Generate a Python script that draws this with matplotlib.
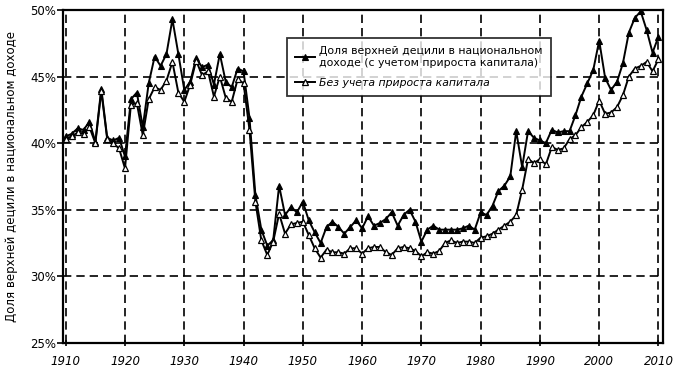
import numpy as np
import matplotlib
matplotlib.use("Agg")
import matplotlib.pyplot as plt
from matplotlib.ticker import FuncFormatter

years = list(range(1910, 2011))

# with capital gains (filled triangles)
share_with_cg = [
    40.5, 40.7, 41.1, 41.0, 41.6, 40.1, 44.1, 40.4, 40.2, 40.4,   # 1910s
    39.0, 43.3, 43.8, 41.2, 44.5, 46.5, 45.8, 46.7, 49.3, 46.7,   # 1920s
    44.0, 44.6, 46.4, 45.7, 45.9, 44.4, 46.7, 44.6, 44.2, 45.6,   # 1930s
    45.4, 41.9, 36.1, 33.5, 32.3, 32.7, 36.8, 34.6, 35.2, 34.8,   # 1940s
    35.6, 34.2, 33.3, 32.5, 33.7, 34.1, 33.7, 33.2, 33.7, 34.2,   # 1950s
    33.6, 34.5, 33.8, 34.0, 34.3, 34.8, 33.8, 34.6, 35.0, 34.1,   # 1960s
    32.6, 33.5, 33.8, 33.5, 33.5, 33.5, 33.5, 33.6, 33.8, 33.5,   # 1970s
    34.8, 34.6, 35.3, 36.4, 36.8, 37.5, 40.9, 38.2, 40.9, 40.4,   # 1980s
    40.2, 40.0, 41.0, 40.8, 40.9, 40.9, 42.1, 43.5, 44.5, 45.5,   # 1990s
    47.7, 44.9, 44.0, 44.6, 46.0, 48.3, 49.4, 49.9, 48.5, 46.8,   # 2000s
    48.0,
]

# without capital gains (open triangles)
share_no_cg = [
    40.3, 40.5, 40.8, 40.7, 41.2, 40.0, 43.9, 40.3, 40.0, 39.6,
    38.1, 42.9, 43.0, 40.6, 43.3, 44.2, 44.0, 44.7, 46.1, 43.8,
    43.1, 44.4, 46.2, 45.1, 45.4, 43.5, 45.0, 43.4, 43.1, 44.8,
    44.5, 41.0, 35.6, 32.7, 31.6, 32.6, 34.7, 33.2, 33.9, 34.0,
    34.1, 33.1, 32.1, 31.4, 32.0, 31.8, 31.8, 31.7, 32.1, 32.1,
    31.7, 32.1, 32.2, 32.2, 31.8, 31.6, 32.1, 32.2, 32.1, 31.9,
    31.5, 31.8, 31.7, 31.9, 32.5, 32.7, 32.5, 32.6, 32.6, 32.5,
    32.9, 33.0, 33.2, 33.5, 33.8, 34.1, 34.6, 36.5, 38.8, 38.5,
    38.8, 38.4, 39.7, 39.5, 39.6, 40.3, 40.6, 41.2, 41.6, 42.1,
    43.2, 42.2, 42.3, 42.7, 43.6, 45.0, 45.6, 45.8, 46.1, 45.4,
    46.3,
]

x_ticks = list(range(1910, 2011, 10))
y_ticks = [25, 30, 35, 40, 45, 50]

label_with = "Доля верхней децили в национальном\nдоходе (с учетом прироста капитала)"
label_without = "Без учета прироста капитала"
y_title = "Доля верхней децили в национальном доходе"

plt.rcParams['font.family'] = ['Liberation Sans Narrow', 'DejaVu Sans']

fig = plt.figure(figsize=(6.74, 3.71), dpi=100)
ax = fig.add_axes([0.094, 0.076, 0.890, 0.897])

ax.plot(years, share_with_cg, color='black', lw=1.4, marker='^', ms=5,
        mfc='black', mec='black', mew=0.8, label=label_with, zorder=3)
ax.plot(years, share_no_cg, color='black', lw=1.4, marker='^', ms=5,
        mfc='white', mec='black', mew=0.9, label=label_without, zorder=4)

ax.set_xlim(1909.6, 2010.8)
ax.set_ylim(25, 50)
ax.set_xticks(x_ticks)
ax.set_yticks(y_ticks)
ax.yaxis.set_major_formatter(FuncFormatter(lambda v, p: f"{v:.0f}%"))

for t in ax.get_xticklabels():
    t.set_fontstyle('italic')
ax.tick_params(axis='x', direction='inout', length=5, width=1.2, labelsize=8.5, pad=6)
ax.tick_params(axis='y', direction='out', length=4, width=1.2, labelsize=8.5, pad=1)

ax.grid(True, color='black', linestyle=(0, (5, 3)), linewidth=1.2)
ax.set_axisbelow(True)
for s in ax.spines.values():
    s.set_linewidth(1.6)
    s.set_color('black')

ax.set_ylabel(y_title, fontsize=8.5, labelpad=9)

leg = ax.legend(loc='upper left', bbox_to_anchor=(0.373, 0.916), fontsize=7.8,
                frameon=True, fancybox=False, edgecolor='black', borderaxespad=0,
                handlelength=1.8, handletextpad=0.4, borderpad=0.75, labelspacing=0.95)
leg.get_frame().set_linewidth(1.3)
leg.get_texts()[1].set_fontstyle('italic')

fig.savefig("out.png", dpi=100)
